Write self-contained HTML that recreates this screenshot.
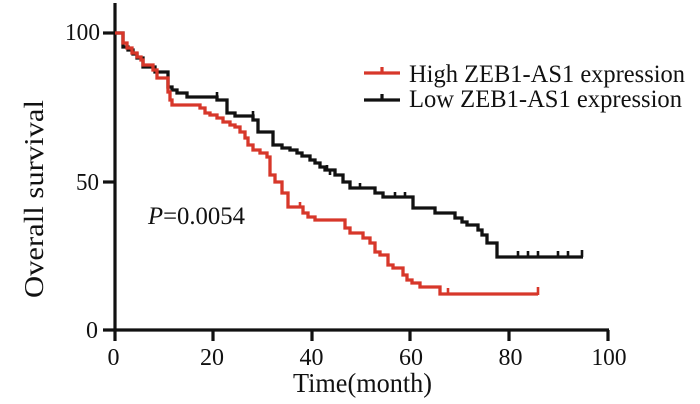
<!DOCTYPE html>
<html><head><meta charset="utf-8"><style>
html,body{margin:0;padding:0;background:#fff;}
svg{display:block;}
text{font-family:"Liberation Serif","Times New Roman",serif;fill:#111;}
</style></head><body>
<svg width="700" height="404" viewBox="0 0 700 404" xmlns="http://www.w3.org/2000/svg">
<g stroke="#111" stroke-width="3.2" fill="none" stroke-linecap="butt">
<line x1="115" y1="3" x2="115" y2="341"/>
<line x1="103" y1="330" x2="609" y2="330"/>
<line x1="103" y1="33" x2="115" y2="33"/>
<line x1="103" y1="182" x2="115" y2="182"/>
<line x1="213" y1="330" x2="213" y2="341"/>
<line x1="312" y1="330" x2="312" y2="341"/>
<line x1="410" y1="330" x2="410" y2="341"/>
<line x1="509" y1="330" x2="509" y2="341"/>
<line x1="608" y1="330" x2="608" y2="341"/>
</g>
<g font-size="24">
<text x="100" y="40" text-anchor="end" textLength="35" lengthAdjust="spacingAndGlyphs">100</text>
<text x="99" y="190" text-anchor="end" textLength="23" lengthAdjust="spacingAndGlyphs">50</text>
<text x="98" y="338" text-anchor="end">0</text>
<text x="113.5" y="365" text-anchor="middle">0</text>
<text x="212" y="365" text-anchor="middle">20</text>
<text x="311.5" y="365" text-anchor="middle">40</text>
<text x="411" y="365" text-anchor="middle">60</text>
<text x="510.5" y="365" text-anchor="middle">80</text>
<text x="609" y="365" text-anchor="middle" textLength="35" lengthAdjust="spacingAndGlyphs">100</text>
</g>
<text x="293" y="392" font-size="27" textLength="139" lengthAdjust="spacingAndGlyphs">Time(month)</text>
<text transform="translate(43,298) rotate(-90)" font-size="27" textLength="198" lengthAdjust="spacingAndGlyphs">Overall survival</text>
<text x="148" y="224" font-size="25" textLength="97" lengthAdjust="spacingAndGlyphs"><tspan font-style="italic">P</tspan>=0.0054</text>
<text x="409" y="82" font-size="25" textLength="276" lengthAdjust="spacingAndGlyphs">High ZEB1-AS1 expression</text>
<text x="409" y="107" font-size="25" textLength="273" lengthAdjust="spacingAndGlyphs">Low ZEB1-AS1 expression</text>
<g stroke-width="3.2" fill="none">
<path d="M364 73 H400 M382 73 V67" stroke="#d7372a"/>
<path d="M364 100 H400 M382 100 V94" stroke="#111"/>
</g>
<path fill="none" stroke="#111" stroke-width="3.3" stroke-linejoin="miter" d="M115 33 H123 V47 H128 V50 H133 V54 H137 V58 H143 V67 H155 V72 H168 V87 H172 V90 H177 V93 H187 V97 H217 V100 H227 V113 H235 V116 H253 V120 H258 V132 H273 V145 H282 V148 H290 V150 H297 V153 H302 V156 H310 V160 H315 V163 H320 V167 H325 V170 H335 V175 H343 V182 H350 V188 H375 V193 H383 V197 H413 V208 H435 V213 H455 V218 H462 V222 H467 V225 H478 V230 H482 V235 H487 V243 H497 V257 H583"/>
<path fill="none" stroke="#111" stroke-width="2.6" d="M217 97 V92 M253 116 V111 M327 170 V165 M330 175 V170 M360 188 V183 M395 197 V192 M405 197 V192 M518 257 V251 M528 257 V251 M538 257 V251 M558 257 V251 M568 257 V251 M582 257 V250"/>
<path fill="none" stroke="#d7372a" stroke-width="3.3" stroke-linejoin="miter" d="M115 33 H123 V43 H127 V48 H132 V53 H137 V57 H141 V60 H143 V65 H153 V70 H157 V78 H168 V92 H170 V100 H172 V105 H200 V108 H205 V113 H210 V115 H217 V118 H223 V122 H230 V125 H235 V127 H240 V132 H245 V138 H248 V145 H253 V150 H260 V153 H267 V157 H270 V175 H275 V182 H282 V193 H288 V207 H303 V213 H308 V217 H315 V220 H345 V228 H350 V233 H363 V238 H370 V243 H375 V252 H380 V255 H388 V265 H393 V268 H403 V275 H407 V280 H412 V283 H420 V287 H440 V294 H538"/>
<path fill="none" stroke="#d7372a" stroke-width="2.6" d="M300 207 V202 M448 294 V288 M538 295 V287"/>
</svg>
</body></html>
